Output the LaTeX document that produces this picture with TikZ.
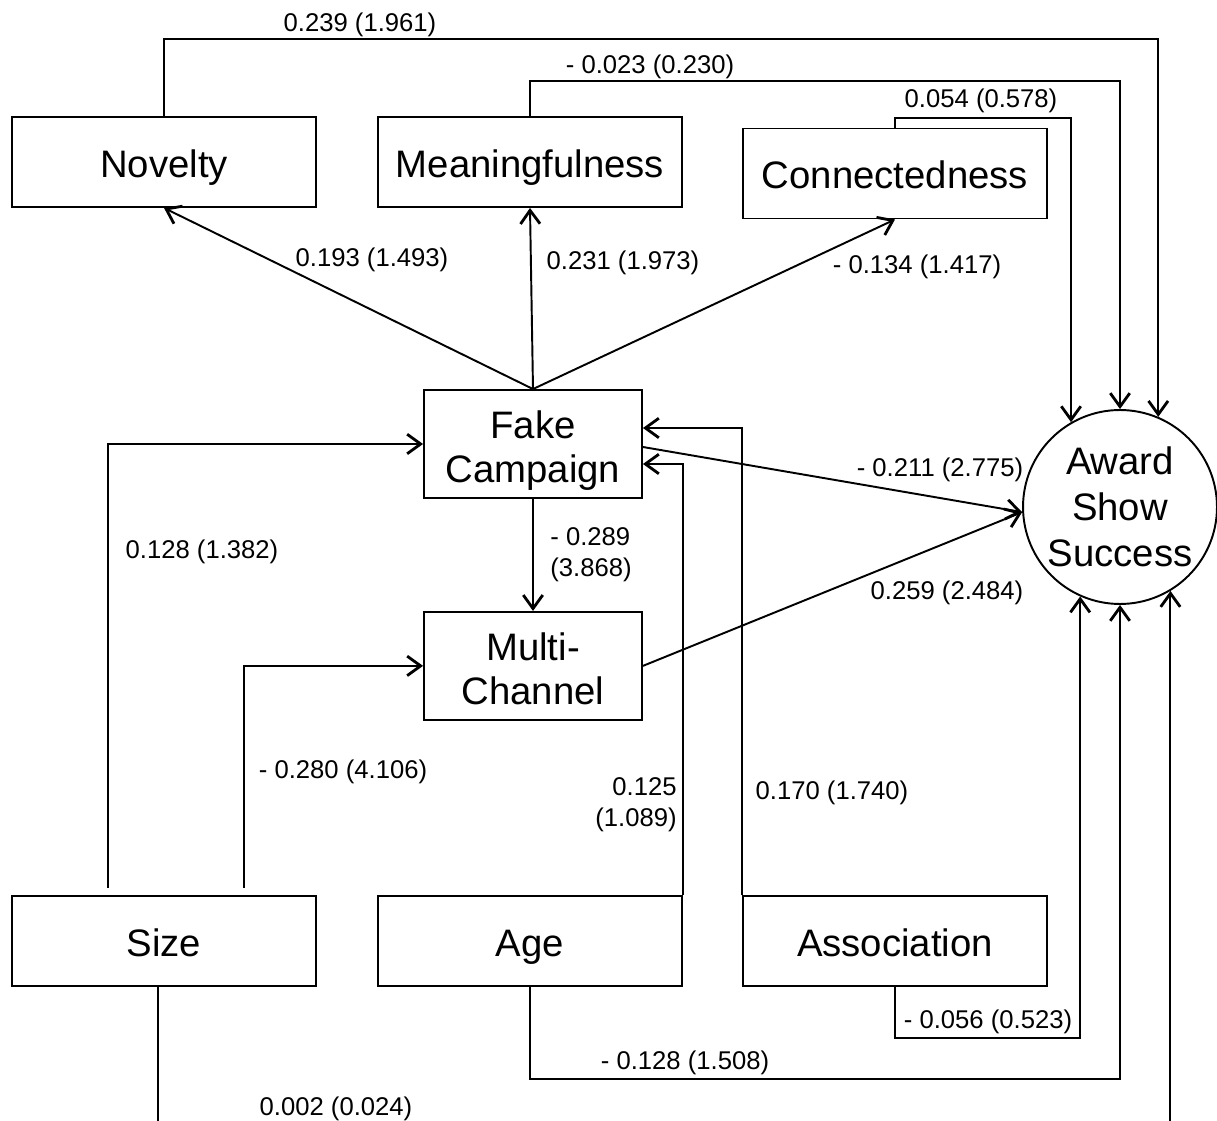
\documentclass[tikz,border=0pt]{standalone}
\usepackage{fontspec}
\setmainfont{Liberation Sans}
\usetikzlibrary{positioning,arrows.meta}
\tikzstyle{boxed}=[draw, rectangle, line width=1.1pt, inner sep=0pt, align=center, font=\fontsize{21.8}{25}\selectfont]
\tikzstyle{factor}=[boxed, minimum width=6.08cm, minimum height=1.8cm, text height=0.66cm, text depth=0.04cm]
\tikzstyle{mediator}=[boxed, minimum width=4.36cm, minimum height=2.16cm, text height=1.59cm, text depth=0.04cm]
\tikzstyle{outcome}=[draw, circle, line width=1.1pt, minimum size=3.88cm, inner sep=0pt, align=center, font=\fontsize{21.8}{26.2}\selectfont]
\tikzstyle{coef}=[inner sep=0pt, yshift=-0.05cm, font=\fontsize{14.6}{17.6}\selectfont]
\tikzstyle{link}=[line width=1.1pt, -{Straight Barb[length=2.7mm, width=3.9mm, line width=1.6pt]}]

\begin{document}
\begin{tikzpicture}[x=0.02cm, y=-0.02cm]
            \useasboundingbox (0,0) rectangle (1217,1121);
            \clip (0,0) rectangle (1217,1121);

            \node[factor] (nov) at (164,162) {Novelty};
            \node[factor] (mean) at (530,162) {Meaningfulness};
            \node[factor] (conn) at (895,173.5) {Connectedness};
            \node[mediator] (fake) at (533,444) {Fake\\Campaign};
            \node[mediator, below=2.24cm of fake] (multi) {Multi-\\Channel};
            \node[factor] (size) at (164,941) {Size};
            \node[factor] (age) at (530,941) {Age};
            \node[factor] (assoc) at (895,941) {Association};
            \node[outcome] (award) at (1120,507) {Award\\Show\\Success};

            % dimensions to success
            \draw[link] (nov.north) -- ++(0,-77) -| (award.67);
            \draw[link] (mean.north) -- ++(0,-35) -| (award.north);
            \draw[link] (conn.north) -- ++(0,-10) -| (award.120);

            % fake campaign paths
            \draw[link] (fake.north) -- (nov.south);
            \draw[link] (fake.north) -- (mean.south);
            \draw[link] (fake.north) -- (conn.south);
            \draw[link] ([yshift=-0.06cm]fake.east) -- (award.183);
            \draw[link] (fake.south) -- (multi.north);
            \draw[link] (multi.east) -- (award.183);

            % controls
            \draw[link] ([xshift=-1.12cm, yshift=0.14cm]size.north) |- (fake.west);
            \draw[link] ([xshift=1.6cm, yshift=0.14cm]size.north) |- (multi.west);
            \draw[link] (age.north east) |- ([yshift=-0.4cm]fake.east);
            \draw[link] (assoc.north west) |- ([yshift=0.32cm]fake.east);
            \draw[link] (assoc.south) -- ++(0,51) -| (award.-114);
            \draw[link] (age.south) -- ++(0,92) -| (award.south);
            \draw[link] ([xshift=-0.12cm]size.south) -- ++(0,160) -| (award.-59);

            % coefficients
            \node[coef] (cnov) at (360,22) {0.239 (1.961)};
            \node[coef] (cmean) at (650,64) {- 0.023 (0.230)};
            \node[coef] (cconn) at (981,98) {0.054 (0.578)};
            \node[coef] (cfnov) at (372,257) {0.193 (1.493)};
            \node[coef] (cfmean) at (623,260) {0.231 (1.973)};
            \node[coef] (cfconn) at (917,264) {- 0.134 (1.417)};
            \node[coef] (cfaw) at (940,467) {- 0.211 (2.775)};
            \node[coef] (cmaw) at (947,590) {0.259 (2.484)};
            \node[coef, anchor=west, align=left] (cfm) at (550,552) {- 0.289\\(3.868)};
            \node[coef] (csf) at (202,549) {0.128 (1.382)};
            \node[coef] (csm) at (343,769) {- 0.280 (4.106)};
            \node[coef, anchor=east, align=right] (caf) at (677,802) {0.125\\(1.089)};
            \node[coef] (cxf) at (832,790) {0.170 (1.740)};
            \node[coef] (cxaw) at (988,1019) {- 0.056 (0.523)};
            \node[coef] (caaw) at (685,1060) {- 0.128 (1.508)};
            \node[coef] (csaw) at (336,1106) {0.002 (0.024)};
        \end{tikzpicture}
\end{document}
